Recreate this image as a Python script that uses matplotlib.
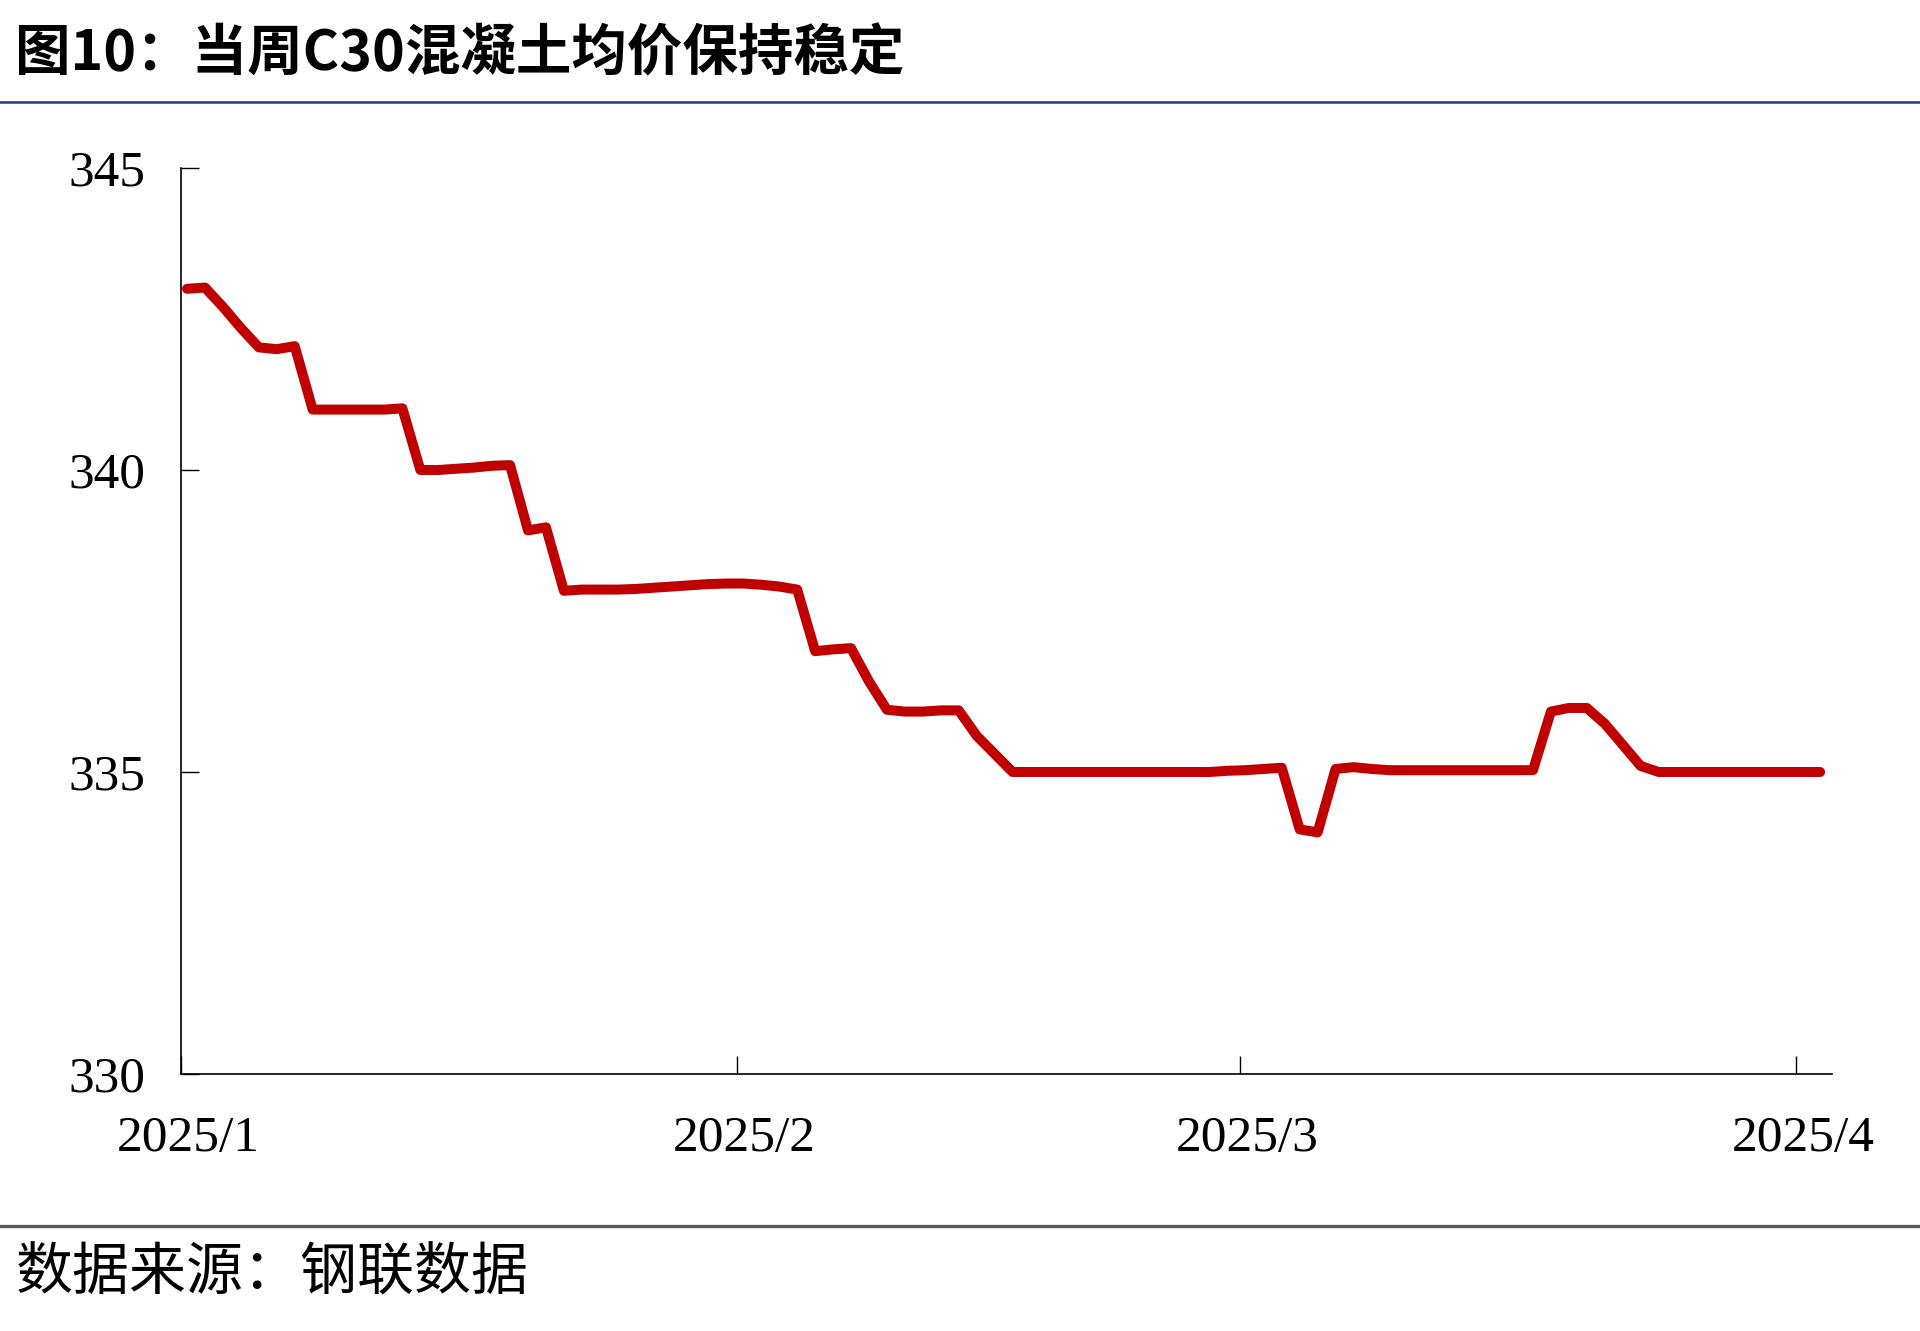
import numpy as np
import pandas as pd
import matplotlib
matplotlib.use('Agg')
from matplotlib import pyplot as plt
from matplotlib import transforms
from matplotlib.lines import Line2D

# C30 concrete average price, daily series
dates = pd.date_range('2025-01-01', '2025-04-02', freq='D')
price = [
    343.0, 343.02, 342.7, 342.35, 342.03, 342.0, 342.05, 341.0, 341.0, 341.0,
    341.0, 341.0, 341.02, 340.0, 340.0, 340.02, 340.04, 340.07, 340.08, 339.0,
    339.05, 338.0, 338.02, 338.02, 338.02, 338.03, 338.05, 338.07, 338.09, 338.11,
    338.12, 338.12, 338.1, 338.07, 338.02, 337.0, 337.03, 337.05, 336.5, 336.03,
    336.0, 336.0, 336.02, 336.02, 335.6, 335.3, 335.0, 335.0, 335.0, 335.0,
    335.0, 335.0, 335.0, 335.0, 335.0, 335.0, 335.0, 335.0, 335.02, 335.03,
    335.05, 335.07, 334.05, 334.0, 335.05, 335.08, 335.05, 335.03, 335.03, 335.03,
    335.03, 335.03, 335.03, 335.03, 335.03, 335.03, 336.0, 336.06, 336.06, 335.8,
    335.45, 335.1, 335.0, 335.0, 335.0, 335.0, 335.0, 335.0, 335.0, 335.0,
    335.0, 335.0,
]
month_ticks = pd.to_datetime(['2025-01-01', '2025-02-01', '2025-03-01', '2025-04-01'])
month_labels = ['2025/1', '2025/2', '2025/3', '2025/4']
y_ticks = [330, 335, 340, 345]

title = '图10：当周C30混凝土均价保持稳定'
source = '数据来源：钢联数据'

cjk = ['Noto Sans CJK SC', 'DejaVu Sans']
serif = ['Liberation Serif', 'DejaVu Serif']

fig = plt.figure(figsize=(9.6, 6.655), dpi=200)
ax = fig.add_axes([0.0943, 0.1931, 0.8599, 0.6807])

# points sit a little to the right of their date tick in the original
x = dates + pd.Timedelta(hours=8)
ax.plot(x, price, color='#C00000', linewidth=3.6,
        solid_capstyle='round', solid_joinstyle='round')

ax.set_ylim(330, 345)
ax.set_xlim(pd.Timestamp('2025-01-01'), pd.Timestamp('2025-04-03'))
ax.set_yticks(y_ticks)
ax.set_yticklabels([str(v) for v in y_ticks])
ax.set_xticks(month_ticks)
ax.set_xticklabels(month_labels)

for side in ['top', 'right']:
    ax.spines[side].set_visible(False)
for side in ['left', 'bottom']:
    ax.spines[side].set_linewidth(0.6)
    ax.spines[side].set_color('black')

ax.tick_params(axis='both', direction='in', length=6.5, width=0.5, colors='black')
ax.tick_params(axis='y', pad=13)
ax.tick_params(axis='x', pad=15)
shift = transforms.ScaledTranslation(0.035, 0, fig.dpi_scale_trans)
for lab in ax.get_xticklabels():
    lab.set_transform(lab.get_transform() + shift)
for lab in ax.get_xticklabels() + ax.get_yticklabels():
    lab.set_family(serif)
    lab.set_fontsize(18.5)

# header and footer
fig.text(0.008, 0.959, title, family=cjk, fontsize=20, fontweight='bold',
         ha='left', va='center', color='black')
fig.add_artist(Line2D([0, 1], [1 - 102 / 1331] * 2, transform=fig.transFigure,
                      color='#1F3D7A', linewidth=0.9))
fig.add_artist(Line2D([0, 1], [1 - 1226 / 1331] * 2, transform=fig.transFigure,
                      color='#5A5A5A', linewidth=1.2))
fig.text(0.008, 1 - 1273 / 1331, source, family=cjk, fontsize=20.5,
         ha='left', va='center', color='black')

fig.savefig('out.png', dpi=200, facecolor='white')
